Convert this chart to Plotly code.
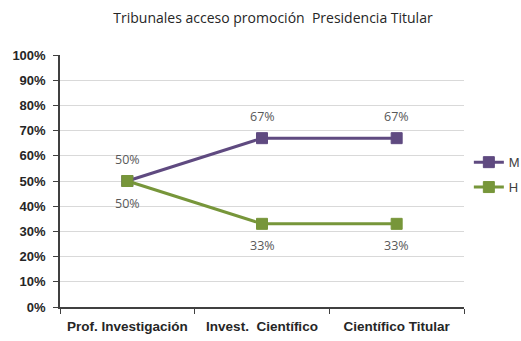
import plotly.graph_objects as go

categories = ["Prof. Investigación", "Invest.  Científico", "Científico Titular"]
series_names = ["M", "H"]
m_values = [0.50, 0.67, 0.67]
h_values = [0.50, 0.33, 0.33]
y_ticks = [i / 10 for i in range(11)]
y_tick_labels = [f"{i * 10}%" for i in range(11)]

purple = "#5f4a80"
green = "#77963a"
label_gray = "#595959"

fig = go.Figure()
for name, vals, color in [(series_names[0], m_values, purple), (series_names[1], h_values, green)]:
    fig.add_trace(go.Scatter(
        x=categories, y=vals, name=name, legendgroup=name, mode="lines+markers",
        line=dict(color=color, width=3),
        marker=dict(symbol="square", size=11, color=color,
                    line=dict(color=color, width=1)),
        hoverinfo="skip",
    ))

# value labels: M above the points, H below
annotations = []
for vals, shift in [(m_values, 22), (h_values, -22)]:
    for c, v in zip(categories, vals):
        annotations.append(dict(
            x=c, y=v, xref="x", yref="y", text=f"{round(v * 100)}%",
            showarrow=False, yshift=shift,
            font=dict(family="Open Sans, Liberation Sans", size=12.5, color=label_gray),
        ))

fig.update_layout(
    width=521, height=341,
    margin=dict(l=60, r=57, t=55, b=34, autoexpand=False),
    paper_bgcolor="white", plot_bgcolor="white",
    title=dict(text="Tribunales acceso promoción  Presidencia Titular",
               x=273 / 521, xanchor="center", y=1 - 18 / 341, yanchor="middle",
               font=dict(family="Open Sans, Liberation Sans", size=14, color="#262626")),
    showlegend=True,
    legend=dict(x=1.012, xanchor="left", y=0.525, yanchor="middle",
                font=dict(family="Liberation Sans", size=13, color="#404040"),
                tracegroupgap=5, bgcolor="rgba(0,0,0,0)", itemwidth=30),
    annotations=annotations,
    xaxis=dict(
        type="category", range=[-0.5, 2.5], showgrid=False,
        showline=True, linecolor="#404040", linewidth=1.5,
        ticks="outside", tickson="boundaries", ticklen=5, tickcolor="#404040",
        ticklabelstandoff=6,
        tickfont=dict(family="Liberation Sans", size=13.5, color="#262626", weight="bold"),
    ),
    yaxis=dict(
        range=[0, 1], tickvals=y_ticks, ticktext=y_tick_labels,
        showgrid=True, gridcolor="#d9d9d9", gridwidth=1,
        showline=True, linecolor="#404040", linewidth=1.5,
        ticks="outside", ticklen=5, tickcolor="#404040", zeroline=False,
        ticklabelstandoff=5,
        tickfont=dict(family="Liberation Sans", size=13, color="#262626", weight="bold"),
    ),
)

fig.write_html("out.html")
